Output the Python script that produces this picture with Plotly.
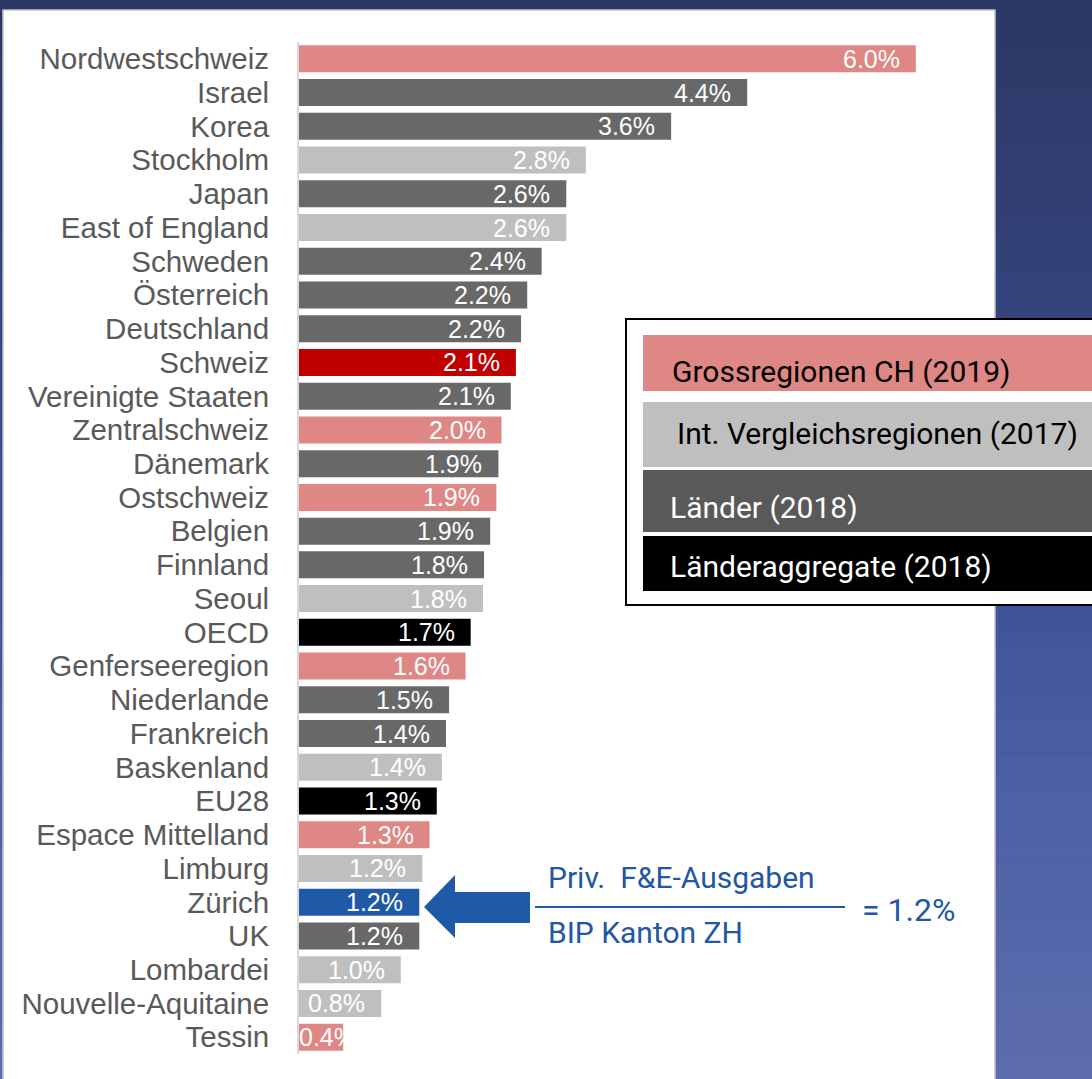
import plotly.graph_objects as go

W, H = 1092, 1079

categories = ["Nordwestschweiz", "Israel", "Korea", "Stockholm", "Japan", "East of England",
              "Schweden", "Österreich", "Deutschland", "Schweiz", "Vereinigte Staaten",
              "Zentralschweiz", "Dänemark", "Ostschweiz", "Belgien", "Finnland", "Seoul",
              "OECD", "Genferseeregion", "Niederlande", "Frankreich", "Baskenland", "EU28",
              "Espace Mittelland", "Limburg", "Zürich", "UK", "Lombardei",
              "Nouvelle-Aquitaine", "Tessin"]
values = [6.0, 4.36, 3.62, 2.79, 2.60, 2.60, 2.36, 2.22, 2.16, 2.11, 2.06, 1.97, 1.94, 1.92,
          1.86, 1.80, 1.79, 1.67, 1.62, 1.46, 1.43, 1.39, 1.34, 1.27, 1.20, 1.17, 1.17, 0.99,
          0.80, 0.43]
groups = ["CH", "LAND", "LAND", "INT", "LAND", "INT", "LAND", "LAND", "LAND", "SCHWEIZ",
          "LAND", "CH", "LAND", "CH", "LAND", "LAND", "INT", "AGG", "CH", "LAND", "LAND",
          "INT", "AGG", "CH", "INT", "ZH", "LAND", "INT", "INT", "CH"]

group_colors = {"CH": "#DE8785", "INT": "#BFBFBF", "LAND": "#686868", "AGG": "#000000",
                "SCHWEIZ": "#C00000", "ZH": "#1F5AA6"}

legend_items = [("Grossregionen CH (2019)", "#DE8785", "#000000"),
                ("Int. Vergleichsregionen (2017)", "#BFBFBF", "#000000"),
                ("Länder (2018)", "#595959", "#FFFFFF"),
                ("Länderaggregate (2018)", "#000000", "#FFFFFF")]


def px(x):
    return x / W


def py(y):
    return 1 - y / H


BLUE = "#1F5AA6"
LEG_FONT = "Roboto"

fig = go.Figure()
fig.add_trace(go.Bar(
    x=values, y=categories, orientation="h",
    marker=dict(color=[group_colors[g] for g in groups], line=dict(width=0)),
    hoverinfo="x+y", showlegend=False,
))

shapes = []
# gradient background
stops = [(0, (43, 55, 99)), (300, (52, 67, 124)), (600, (64, 83, 152)),
         (800, (78, 96, 166)), (1079, (92, 108, 174))]


def col_at(y):
    for (y0, c0), (y1, c1) in zip(stops[:-1], stops[1:]):
        if y0 <= y <= y1:
            t = (y - y0) / (y1 - y0)
            return "rgb(%d,%d,%d)" % tuple(round(a + (b - a) * t) for a, b in zip(c0, c1))
    return "rgb(%d,%d,%d)" % stops[-1][1]


nb = 60
for i in range(nb):
    y0 = H * i / nb
    y1 = H * (i + 1) / nb
    shapes.append(dict(type="rect", xref="paper", yref="paper", x0=0, x1=1,
                       y0=py(y0), y1=py(y1) - 0.0005, fillcolor=col_at((y0 + y1) / 2),
                       line=dict(width=0), layer="below"))
# white panel
shapes.append(dict(type="rect", xref="paper", yref="paper", x0=px(3), x1=px(995),
                   y0=py(1085), y1=py(10), fillcolor="white",
                   line=dict(color="#C4C4C4", width=1.5), layer="below"))

# legend box
shapes.append(dict(type="rect", xref="paper", yref="paper", x0=px(626), x1=px(1110),
                   y0=py(605), y1=py(319), fillcolor="white",
                   line=dict(color="#000000", width=2), layer="above"))
leg_rows = [(335, 391, 372), (402, 467, 433), (470, 532, 507), (536, 591, 566)]
leg_x = [670, 675, 668, 668]
annotations = []
for (label, fc, tc), (ya, yb, yc), lx in zip(legend_items, leg_rows, leg_x):
    shapes.append(dict(type="rect", xref="paper", yref="paper", x0=px(643), x1=px(1110),
                       y0=py(yb), y1=py(ya), fillcolor=fc, line=dict(width=0),
                       layer="above"))
    annotations.append(dict(xref="paper", yref="paper", x=px(lx), y=py(yc), text=label,
                            showarrow=False, xanchor="left", yanchor="middle",
                            font=dict(family=LEG_FONT, size=30, color=tc)))

# arrow
pts = [(424, 907), (455, 875), (455, 892), (530, 892), (530, 923), (455, 923), (455, 938)]
path = "M " + " L ".join("%.5f,%.5f" % (px(a), py(b)) for a, b in pts) + " Z"
shapes.append(dict(type="path", xref="paper", yref="paper", path=path, fillcolor=BLUE,
                   line=dict(width=0), layer="above"))
# fraction line
shapes.append(dict(type="line", xref="paper", yref="paper", x0=px(535), x1=px(845),
                   y0=py(907), y1=py(907), line=dict(color=BLUE, width=2), layer="above"))

ftxt = dict(family=LEG_FONT, size=30, color="#2157A5")
annotations.append(dict(xref="paper", yref="paper", x=px(546), y=py(877),
                        text="Priv.\u00a0 F&amp;E-Ausgaben", showarrow=False,
                        xanchor="left", yanchor="middle", font=ftxt))
annotations.append(dict(xref="paper", yref="paper", x=px(546), y=py(932),
                        text="BIP Kanton ZH", showarrow=False,
                        xanchor="left", yanchor="middle", font=ftxt))
annotations.append(dict(xref="paper", yref="paper", x=px(860), y=py(910),
                        text="= 1.2%", showarrow=False,
                        xanchor="left", yanchor="middle",
                        font=dict(family=LEG_FONT, size=32, color="#2157A5")))

# value labels (inside end; short bars: start at the base, overflow hidden on white)
for c, v in zip(categories, values):
    short = v < 0.6
    annotations.append(dict(xref="x", yref="y", x=0 if short else v, y=c,
                            text="%.1f%%" % v, showarrow=False,
                            xanchor="left" if short else "right", yanchor="middle",
                            xshift=-2 if short else -14,
                            font=dict(family="Liberation Sans", size=25, color="white")))

fig.update_layout(
    width=W, height=H,
    margin=dict(l=0, r=0, t=0, b=0),
    paper_bgcolor="#2B3763", plot_bgcolor="rgba(0,0,0,0)",
    bargap=0.2,
    shapes=shapes, annotations=annotations,
    xaxis=dict(domain=[px(299), px(995)], range=[0, (995 - 299) / 102.8], visible=False,
               fixedrange=True),
    yaxis=dict(domain=[py(1054), py(42)], type="category", autorange="reversed",
               showline=True, linecolor="#D9D9D9", linewidth=2, ticks="",
               tickmode="linear", tick0=0, dtick=1,
               ticklabelstandoff=22, showgrid=False,
               tickfont=dict(family="Liberation Sans", size=29.5, color="#595959")),
    font=dict(family="Liberation Sans"),
)

fig.write_html("out.html", config={"displayModeBar": False},
               post_script="document.body.style.margin='0px';")
